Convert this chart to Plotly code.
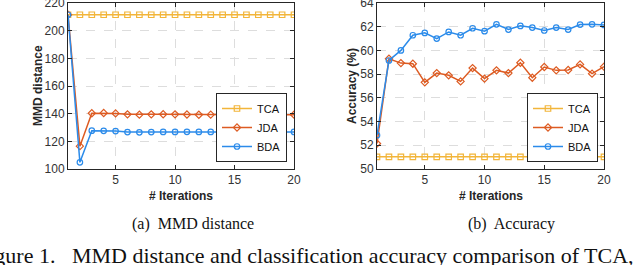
import plotly.graph_objects as go

iters = list(range(1, 21))

mmd_tca = [211.5] * 20
mmd_jda = [211.5, 116.5, 140.3, 140.5, 140.2, 139.5, 139.3, 139.5, 139.6, 139.5,
           139.4, 139.2, 139.3, 139.4, 139.3, 139.3, 139.3, 139.3, 139.3, 139.3]
mmd_bda = [211.5, 104.8, 127.7, 127.6, 127.4, 126.7, 126.5, 126.7, 126.8, 126.8,
           126.9, 126.8, 126.8, 126.8, 126.8, 126.8, 126.8, 126.8, 126.8, 126.8]

acc_tca = [51.03] * 20
acc_jda = [52.15, 59.3, 58.93, 58.88, 57.31, 58.09, 57.9, 57.39, 58.51, 57.62,
           58.32, 58.09, 58.96, 57.7, 58.6, 58.32, 58.35, 58.82, 58.04, 58.63]
acc_bda = [52.85, 59.15, 60.0, 61.28, 61.48, 61.0, 61.56, 61.28, 61.87, 61.62,
           62.2, 61.76, 62.07, 61.93, 61.68, 61.93, 61.76, 62.18, 62.2, 62.15]

names = ["TCA", "JDA", "BDA"]
colors = ["#F2B53A", "#DD5B22", "#2B8BEA"]
symbols = ["square-open", "diamond-open", "circle-open"]

W, H = 640, 265
def px(x): return x / W
def py(y): return (H - y) / H

fig = go.Figure()
for i, (name, ys) in enumerate(zip(names, [mmd_tca, mmd_jda, mmd_bda])):
    fig.add_trace(go.Scatter(x=iters, y=ys, name=name, mode="lines+markers",
                             line=dict(color=colors[i], width=1.5),
                             marker=dict(symbol=symbols[i], size=5.5, color=colors[i],
                                         line=dict(width=1.2, color=colors[i])),
                             xaxis="x", yaxis="y", legend="legend"))
for i, (name, ys) in enumerate(zip(names, [acc_tca, acc_jda, acc_bda])):
    fig.add_trace(go.Scatter(x=iters, y=ys, name=name, mode="lines+markers",
                             line=dict(color=colors[i], width=1.5),
                             marker=dict(symbol=symbols[i], size=5.5, color=colors[i],
                                         line=dict(width=1.2, color=colors[i])),
                             xaxis="x2", yaxis="y2", legend="legend2"))

axcommon = dict(showline=True, linecolor="#262626", linewidth=1, mirror="ticks",
                ticks="inside", ticklen=4, tickcolor="#262626",
                showgrid=True, gridcolor="#DDDDDD", griddash="dash", gridwidth=1,
                zeroline=False, automargin=False, ticklabeloverflow="allow",
                tickfont=dict(family="Liberation Sans, Arial", size=12, color="#333333"))

legcommon = dict(xanchor="right", yanchor="bottom",
                 bgcolor="white", bordercolor="#262626", borderwidth=1,
                 font=dict(family="Liberation Sans, Arial", size=11, color="#111111"),
                 itemwidth=30, tracegroupgap=0)

fig.update_layout(
    width=W, height=H, margin=dict(l=0, r=0, t=0, b=0, autoexpand=False),
    paper_bgcolor="white", plot_bgcolor="white",
    xaxis=dict(domain=[px(68), px(294)], range=[1, 20], tickvals=[5, 10, 15, 20],
               anchor="y", **axcommon),
    yaxis=dict(domain=[py(169), py(3)], range=[100, 220], dtick=20, anchor="x", **axcommon),
    xaxis2=dict(domain=[px(377), px(604)], range=[1, 20], tickvals=[5, 10, 15, 20],
                anchor="y2", **axcommon),
    yaxis2=dict(domain=[py(169), py(3)], range=[50, 64], dtick=2, anchor="x2", **axcommon),
    legend=dict(x=px(287), y=py(162), **legcommon),
    legend2=dict(x=px(598), y=py(162), **legcommon),
    showlegend=True,
)

lab = dict(family="Liberation Sans, Arial", size=12, color="#262626")
ser = dict(family="Liberation Serif, Times New Roman", size=16, color="#111111")
cap = dict(family="Liberation Serif, Times New Roman", size=22, color="#111111")
anns = [
    dict(x=px(181), y=py(196), text="<b># Iterations</b>", font=lab),
    dict(x=px(491), y=py(196), text="<b># Iterations</b>", font=lab),
    dict(x=px(38), y=py(86), text="<b>MMD distance</b>", font=lab, textangle=-90),
    dict(x=px(352), y=py(86), text="<b>Accuracy (%)</b>", font=lab, textangle=-90),
    dict(x=px(193), y=py(224), text="(a)&nbsp; MMD distance", font=ser),
    dict(x=px(511), y=py(224), text="(b)&nbsp; Accuracy", font=ser),
]
for a in anns:
    a.update(xref="paper", yref="paper", showarrow=False, xanchor="center", yanchor="middle")
fig.update_layout(annotations=anns)
fig.add_annotation(x=px(636), y=py(255), xref="paper", yref="paper", showarrow=False,
                   xanchor="right", yanchor="middle",
                   text="Figure 1.&nbsp;&nbsp; MMD distance and classification accuracy comparison of TCA,",
                   font=cap)

fig.write_html("out.html", config={"displayModeBar": False},
               post_script="document.body.style.margin='0';document.body.style.overflow='hidden';")
